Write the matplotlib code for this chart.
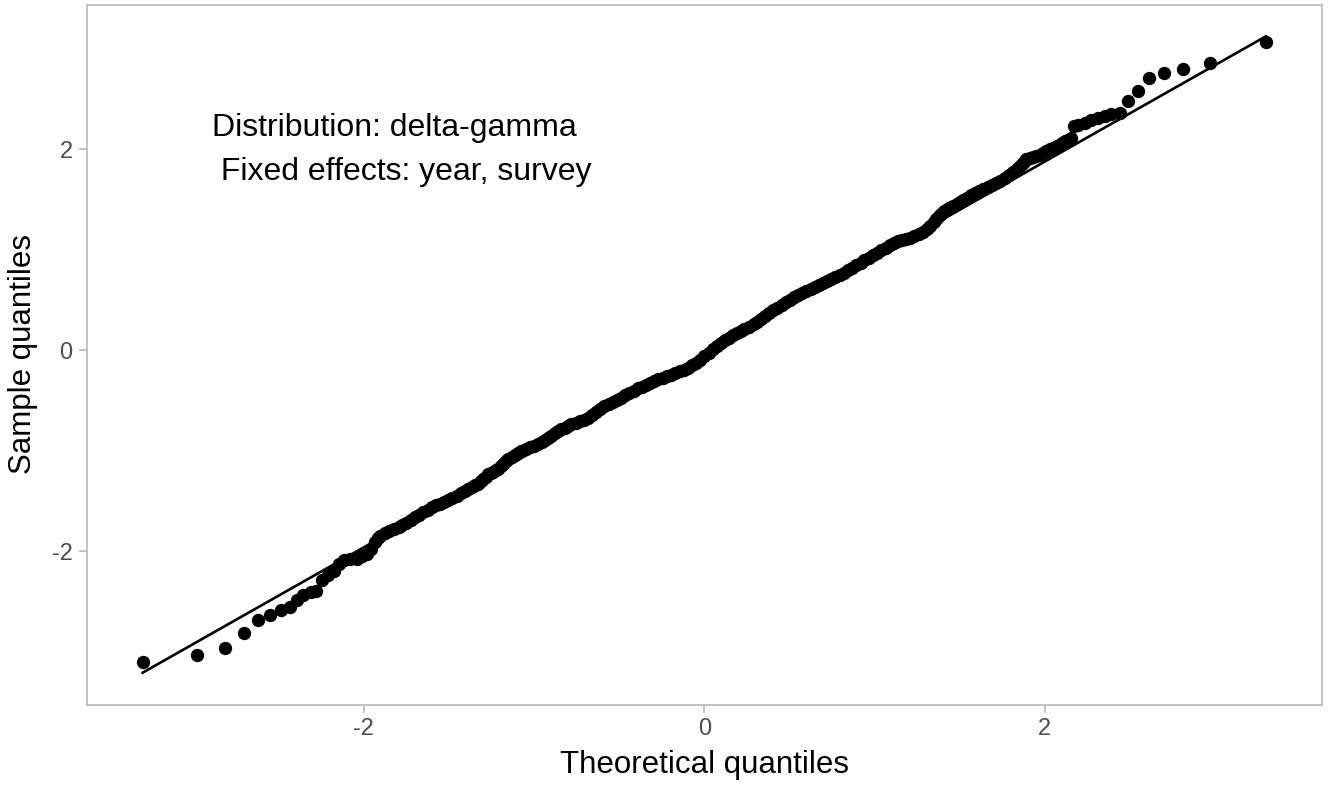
import matplotlib
matplotlib.use("Agg")
import matplotlib.pyplot as plt
import numpy as np

plt.rcParams['font.family'] = ['Liberation Sans', 'DejaVu Sans']

# theoretical quantiles (x) and sample quantiles (y)
theoretical = [
    -3.299, -2.977, -2.817, -2.704, -2.620, -2.552, -2.489, -2.435, -2.391, -2.356,
    -2.313, -2.278, -2.245, -2.210, -2.177, -2.145, -2.118, -2.080, -2.040, -2.010,
    -1.981, -1.955, -1.933, -1.918, -1.903, -1.877, -1.850, -1.823, -1.796, -1.773,
    -1.750, -1.724, -1.698, -1.674, -1.650, -1.625, -1.601, -1.575, -1.550, -1.527,
    -1.503, -1.479, -1.455, -1.430, -1.406, -1.385, -1.365, -1.346, -1.328, -1.314,
    -1.300, -1.285, -1.270, -1.255, -1.240, -1.225, -1.211, -1.195, -1.180, -1.166,
    -1.152, -1.131, -1.110, -1.092, -1.074, -1.050, -1.025, -1.000, -0.976, -0.955,
    -0.935, -0.916, -0.898, -0.879, -0.860, -0.840, -0.820, -0.800, -0.781, -0.755,
    -0.730, -0.706, -0.683, -0.659, -0.635, -0.610, -0.586, -0.560, -0.535, -0.511,
    -0.488, -0.464, -0.440, -0.415, -0.391, -0.365, -0.340, -0.316, -0.293, -0.269,
    -0.245, -0.220, -0.195, -0.170, -0.145, -0.121, -0.098, -0.074, -0.050, -0.025,
    0.000, 0.025, 0.050, 0.074, 0.098, 0.121, 0.145, 0.170, 0.195, 0.215,
    0.234, 0.263, 0.293, 0.312, 0.332, 0.356, 0.380, 0.405, 0.429, 0.455,
    0.480, 0.503, 0.527, 0.551, 0.575, 0.600, 0.625, 0.650, 0.675, 0.698,
    0.722, 0.746, 0.770, 0.795, 0.820, 0.845, 0.870, 0.894, 0.918, 0.941,
    0.965, 0.990, 1.015, 1.040, 1.065, 1.089, 1.113, 1.136, 1.160, 1.185,
    1.211, 1.235, 1.260, 1.284, 1.308, 1.328, 1.347, 1.364, 1.380, 1.393,
    1.406, 1.420, 1.435, 1.450, 1.464, 1.482, 1.500, 1.521, 1.542, 1.566,
    1.590, 1.615, 1.640, 1.665, 1.690, 1.714, 1.738, 1.764, 1.790, 1.812,
    1.835, 1.850, 1.865, 1.879, 1.893, 1.912, 1.930, 1.951, 1.972, 1.991,
    2.010, 2.030, 2.050, 2.070, 2.089, 2.104, 2.118, 2.138, 2.157, 2.173,
    2.196, 2.235, 2.274, 2.313, 2.352, 2.391, 2.440, 2.489, 2.548, 2.614,
    2.700, 2.811, 2.973, 3.299,
]
sample = [
    -3.100, -3.027, -2.958, -2.812, -2.687, -2.637, -2.588, -2.554, -2.488, -2.439,
    -2.405, -2.395, -2.290, -2.240, -2.191, -2.130, -2.091, -2.080, -2.074, -2.050,
    -2.025, -1.980, -1.906, -1.870, -1.843, -1.820, -1.800, -1.780, -1.760, -1.738,
    -1.715, -1.688, -1.661, -1.636, -1.610, -1.586, -1.562, -1.543, -1.525, -1.505,
    -1.486, -1.466, -1.445, -1.421, -1.397, -1.378, -1.360, -1.345, -1.330, -1.305,
    -1.280, -1.257, -1.235, -1.222, -1.210, -1.196, -1.181, -1.155, -1.130, -1.106,
    -1.082, -1.061, -1.040, -1.020, -0.999, -0.982, -0.965, -0.949, -0.933, -0.911,
    -0.890, -0.870, -0.851, -0.825, -0.800, -0.785, -0.770, -0.753, -0.737, -0.721,
    -0.705, -0.690, -0.672, -0.641, -0.610, -0.583, -0.556, -0.535, -0.515, -0.494,
    -0.474, -0.450, -0.425, -0.403, -0.381, -0.363, -0.345, -0.326, -0.308, -0.291,
    -0.275, -0.258, -0.242, -0.226, -0.210, -0.193, -0.176, -0.152, -0.125, -0.093,
    -0.060, -0.025, 0.010, 0.041, 0.072, 0.099, 0.125, 0.149, 0.172, 0.190,
    0.208, 0.234, 0.260, 0.284, 0.308, 0.336, 0.365, 0.395, 0.424, 0.450,
    0.475, 0.500, 0.524, 0.545, 0.565, 0.586, 0.606, 0.628, 0.650, 0.670,
    0.689, 0.710, 0.730, 0.751, 0.772, 0.796, 0.820, 0.846, 0.871, 0.896,
    0.920, 0.945, 0.970, 0.995, 1.020, 1.045, 1.069, 1.082, 1.095, 1.107,
    1.119, 1.140, 1.160, 1.180, 1.201, 1.235, 1.270, 1.300, 1.330, 1.358,
    1.385, 1.398, 1.410, 1.422, 1.434, 1.455, 1.475, 1.497, 1.518, 1.539,
    1.560, 1.579, 1.598, 1.619, 1.640, 1.660, 1.681, 1.710, 1.740, 1.768,
    1.797, 1.823, 1.850, 1.873, 1.896, 1.908, 1.920, 1.932, 1.945, 1.962,
    1.980, 1.996, 2.012, 2.028, 2.045, 2.061, 2.077, 2.094, 2.111, 2.226,
    2.243, 2.260, 2.286, 2.306, 2.326, 2.349, 2.359, 2.475, 2.574, 2.703,
    2.756, 2.799, 2.855, 3.060,
]

# reference line (qq line)
line_slope = 0.959
line_intercept = -0.043

label_text = "Distribution: delta-gamma \n Fixed effects: year, survey"

fig = plt.figure(figsize=(13.33, 7.86), dpi=100)
ax = fig.add_axes([86.5/1333, 1-704.5/786, (1322-86.5)/1333, (704.5-4.5)/786])

ax.plot(theoretical, sample, 'o', color='black', markersize=9.6, markeredgewidth=0)
xl = np.array([min(theoretical), max(theoretical)])
ax.plot(xl, line_intercept + line_slope*xl, color='black', lw=1.9)

ax.margins(0.05)
ax.set_xticks([-2, 0, 2])
ax.set_yticks([-2, 0, 2])
ax.set_xticklabels(['-2', '0', '2'])
ax.set_yticklabels(['-2', '0', '2'])

for s in ax.spines.values():
    s.set_color('#b3b3b3')
    s.set_linewidth(1.1)
ax.tick_params(colors='#b3b3b3', labelcolor='#4d4d4d', labelsize=17, length=5.5, width=1.1, pad=4.5)

ax.set_xlabel('Theoretical quantiles', fontsize=22.5, labelpad=7)
ax.set_ylabel('Sample quantiles', fontsize=22.5, labelpad=10)

ax.text(-2.893, 2.36, label_text, fontsize=23, ha='left', va='top', linespacing=1.62)

fig.savefig('out.png', dpi=100)
